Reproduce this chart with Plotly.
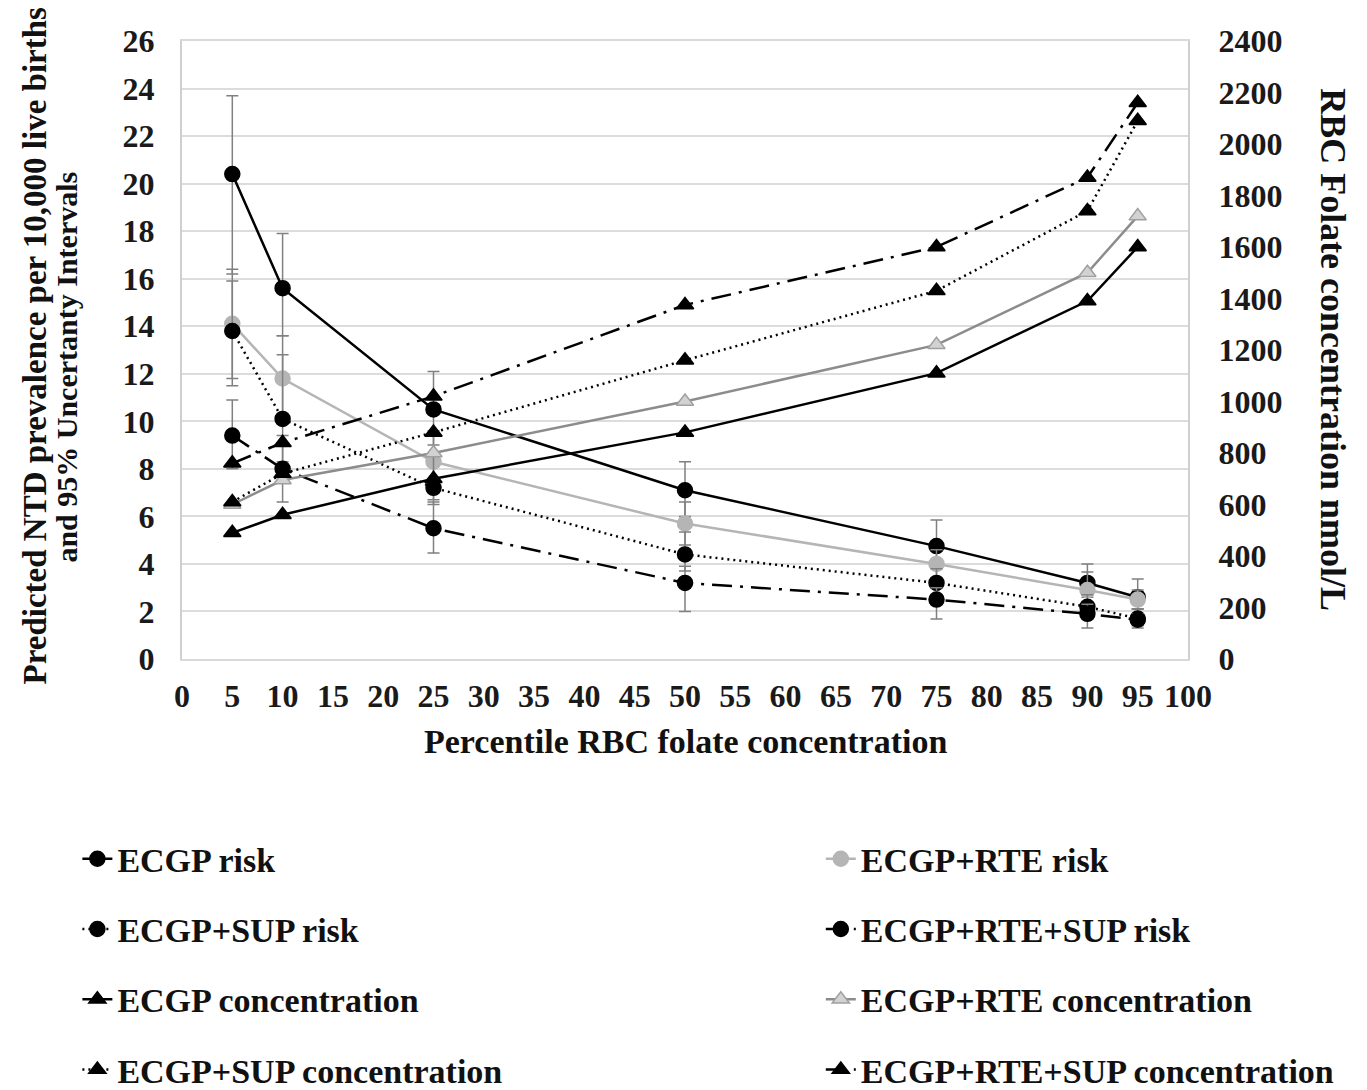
import plotly.graph_objects as go

percentiles = [5, 10, 25, 50, 75, 90, 95]

# NTD risk (left axis) with 95% uncertainty intervals
ecgp_risk = [20.4, 15.6, 10.5, 7.1, 4.75, 3.2, 2.6]
ecgp_risk_hi = [23.7, 17.9, 12.1, 8.3, 5.85, 4.0, 3.37]
ecgp_risk_lo = [16.2, 13.6, 9.0, 6.0, 4.0, 2.6, 2.1]

rte_risk = [14.1, 11.8, 8.3, 5.7, 4.0, 2.9, 2.5]
rte_risk_hi = [16.4, 13.6, 9.6, 6.6, 4.6, 3.66, 2.9]
rte_risk_lo = [11.8, 10.2, 6.7, 4.8, 3.4, 2.4, 2.1]

sup_risk = [13.8, 10.1, 7.2, 4.4, 3.2, 2.2, 1.7]
sup_risk_hi = [15.9, 12.8, 8.6, 5.34, 3.8, 2.7, 2.1]
sup_risk_lo = [11.5, 8.3, 6.5, 3.7, 2.7, 1.7, 1.4]

rtesup_risk = [9.4, 8.0, 5.5, 3.2, 2.5, 1.9, 1.65]
rtesup_risk_hi = [10.9, 9.4, 6.6, 3.9, 3.0, 2.3, 1.9]
rtesup_risk_lo = [8.0, 6.6, 4.46, 2.0, 1.68, 1.3, 1.3]

# RBC folate concentration (right axis, nmol/L)
ecgp_conc = [490, 560, 700, 880, 1110, 1390, 1600]
rte_conc = [600, 695, 800, 1000, 1220, 1500, 1720]
sup_conc = [610, 720, 880, 1160, 1430, 1740, 2090]
rtesup_conc = [760, 840, 1020, 1375, 1600, 1870, 2160]

x_ticks = list(range(0, 101, 5))
left_ticks = list(range(0, 27, 2))
right_ticks = list(range(0, 2401, 200))

FONT = "Liberation Serif"
BLACK = "#000000"
LGRAY = "#b5b5b5"
MGRAY = "#8c8c8c"
ERR = "#808080"
DOT = "2px,4px"
DASHDOT = "20px,8px,3px,8px"

fig = go.Figure()


def err(val, hi, lo):
    return dict(type="data", symmetric=False,
                array=[h - v for h, v in zip(hi, val)],
                arrayminus=[v - l for v, l in zip(val, lo)],
                color=ERR, thickness=1.5, width=6)


def add(name, y, axis, color, dash, symbol, mcolor, mline, legend, e=None, width=2.5):
    fig.add_trace(go.Scatter(
        x=percentiles, y=y, name=name, mode="lines+markers", yaxis=axis,
        line=dict(color=color, width=width, dash=dash),
        marker=dict(symbol=symbol, size=15, color=mcolor,
                    line=dict(color=mline, width=1.5)),
        error_y=e, legend=legend, legendgroup=name))


# concentration traces (drawn first, underneath)
add("ECGP concentration", ecgp_conc, "y2", BLACK, "solid", "triangle-up", BLACK, BLACK, "legend")
add("ECGP+RTE concentration", rte_conc, "y2", MGRAY, "solid", "triangle-up", "#d2d2d2", "#a0a0a0", "legend2")
add("ECGP+SUP concentration", sup_conc, "y2", BLACK, DOT, "triangle-up", BLACK, BLACK, "legend")
add("ECGP+RTE+SUP concentration", rtesup_conc, "y2", BLACK, DASHDOT, "triangle-up", BLACK, BLACK, "legend2")

# risk traces
add("ECGP risk", ecgp_risk, "y", BLACK, "solid", "circle", BLACK, BLACK, "legend",
    err(ecgp_risk, ecgp_risk_hi, ecgp_risk_lo))
add("ECGP+RTE risk", rte_risk, "y", LGRAY, "solid", "circle", LGRAY, LGRAY, "legend2",
    err(rte_risk, rte_risk_hi, rte_risk_lo))
add("ECGP+SUP risk", sup_risk, "y", BLACK, DOT, "circle", BLACK, BLACK, "legend",
    err(sup_risk, sup_risk_hi, sup_risk_lo))
add("ECGP+RTE+SUP risk", rtesup_risk, "y", BLACK, DASHDOT, "circle", BLACK, BLACK, "legend2",
    err(rtesup_risk, rtesup_risk_hi, rtesup_risk_lo))

tickfont = dict(family=FONT, size=32, color="#1a1a1a", weight="bold")
legfont = dict(family=FONT, size=34, color="#111111", weight="bold")

left_order = ["ECGP risk", "ECGP+SUP risk", "ECGP concentration", "ECGP+SUP concentration"]
right_order = ["ECGP+RTE risk", "ECGP+RTE+SUP risk", "ECGP+RTE concentration", "ECGP+RTE+SUP concentration"]
for tr in fig.data:
    if tr.name in left_order:
        tr.legendrank = left_order.index(tr.name) + 1
    else:
        tr.legendrank = right_order.index(tr.name) + 1

# page body has an 8px margin: figure is shifted so the plot sits where the reference has it
fig.update_layout(
    width=1351, height=1082,
    margin=dict(l=174, r=171, t=33, b=431, autoexpand=False),
    paper_bgcolor="white", plot_bgcolor="white",
    showlegend=True,
    xaxis=dict(range=[0, 100], tickmode="array", tickvals=x_ticks,
               ticktext=[str(v) for v in x_ticks], tickfont=tickfont,
               showgrid=False, zeroline=False, showline=True, linecolor="#d9d9d9",
               linewidth=2, mirror=True, ticks="", ticklabelstandoff=8,
               automargin=False),
    yaxis=dict(range=[0, 26], tickmode="array", tickvals=left_ticks,
               ticktext=[str(v) for v in left_ticks], tickfont=tickfont,
               showgrid=True, gridcolor="#dcdcdc", gridwidth=1.5, zeroline=False,
               showline=True, linecolor="#cfcfcf", linewidth=2, ticks="",
               ticklabelstandoff=19, automargin=False),
    yaxis2=dict(range=[0, 2400], tickmode="array", tickvals=right_ticks,
                ticktext=[str(v) for v in right_ticks], tickfont=tickfont,
                overlaying="y", side="right", showgrid=False, zeroline=False,
                showline=True, linecolor="#cfcfcf", linewidth=2, ticks="",
                ticklabelstandoff=22, automargin=False),
    legend=dict(x=-0.104, y=-0.277, xanchor="left", yanchor="top",
                orientation="v", font=legfont, tracegroupgap=23,
                bgcolor="rgba(0,0,0,0)"),
    legend2=dict(x=0.635, y=-0.277, xanchor="left", yanchor="top",
                 orientation="v", font=legfont, tracegroupgap=23,
                 bgcolor="rgba(0,0,0,0)"),
    annotations=[
        dict(text="Predicted NTD prevalence per 10,000 live births",
             xref="paper", yref="paper", x=-0.146, y=0.506, xanchor="center", yanchor="middle",
             textangle=-90, showarrow=False,
             font=dict(family=FONT, size=33, color="#111111", weight="bold")),
        dict(text="and 95% Uncertanty Intervals",
             xref="paper", yref="paper", x=-0.115, y=0.472, xanchor="center", yanchor="middle",
             textangle=-90, showarrow=False,
             font=dict(family=FONT, size=30, color="#111111", weight="bold")),
        dict(text="RBC Folate concentration nmol/L",
             xref="paper", yref="paper", x=1.144, y=0.5, xanchor="center", yanchor="middle",
             textangle=90, showarrow=False,
             font=dict(family=FONT, size=36, color="#111111", weight="bold")),
        dict(text="Percentile RBC folate concentration",
             xref="paper", yref="paper", x=0.5, y=-0.134, xanchor="center", yanchor="middle",
             showarrow=False,
             font=dict(family=FONT, size=34, color="#111111", weight="bold")),
    ],
)

fig.write_html("out.html")
